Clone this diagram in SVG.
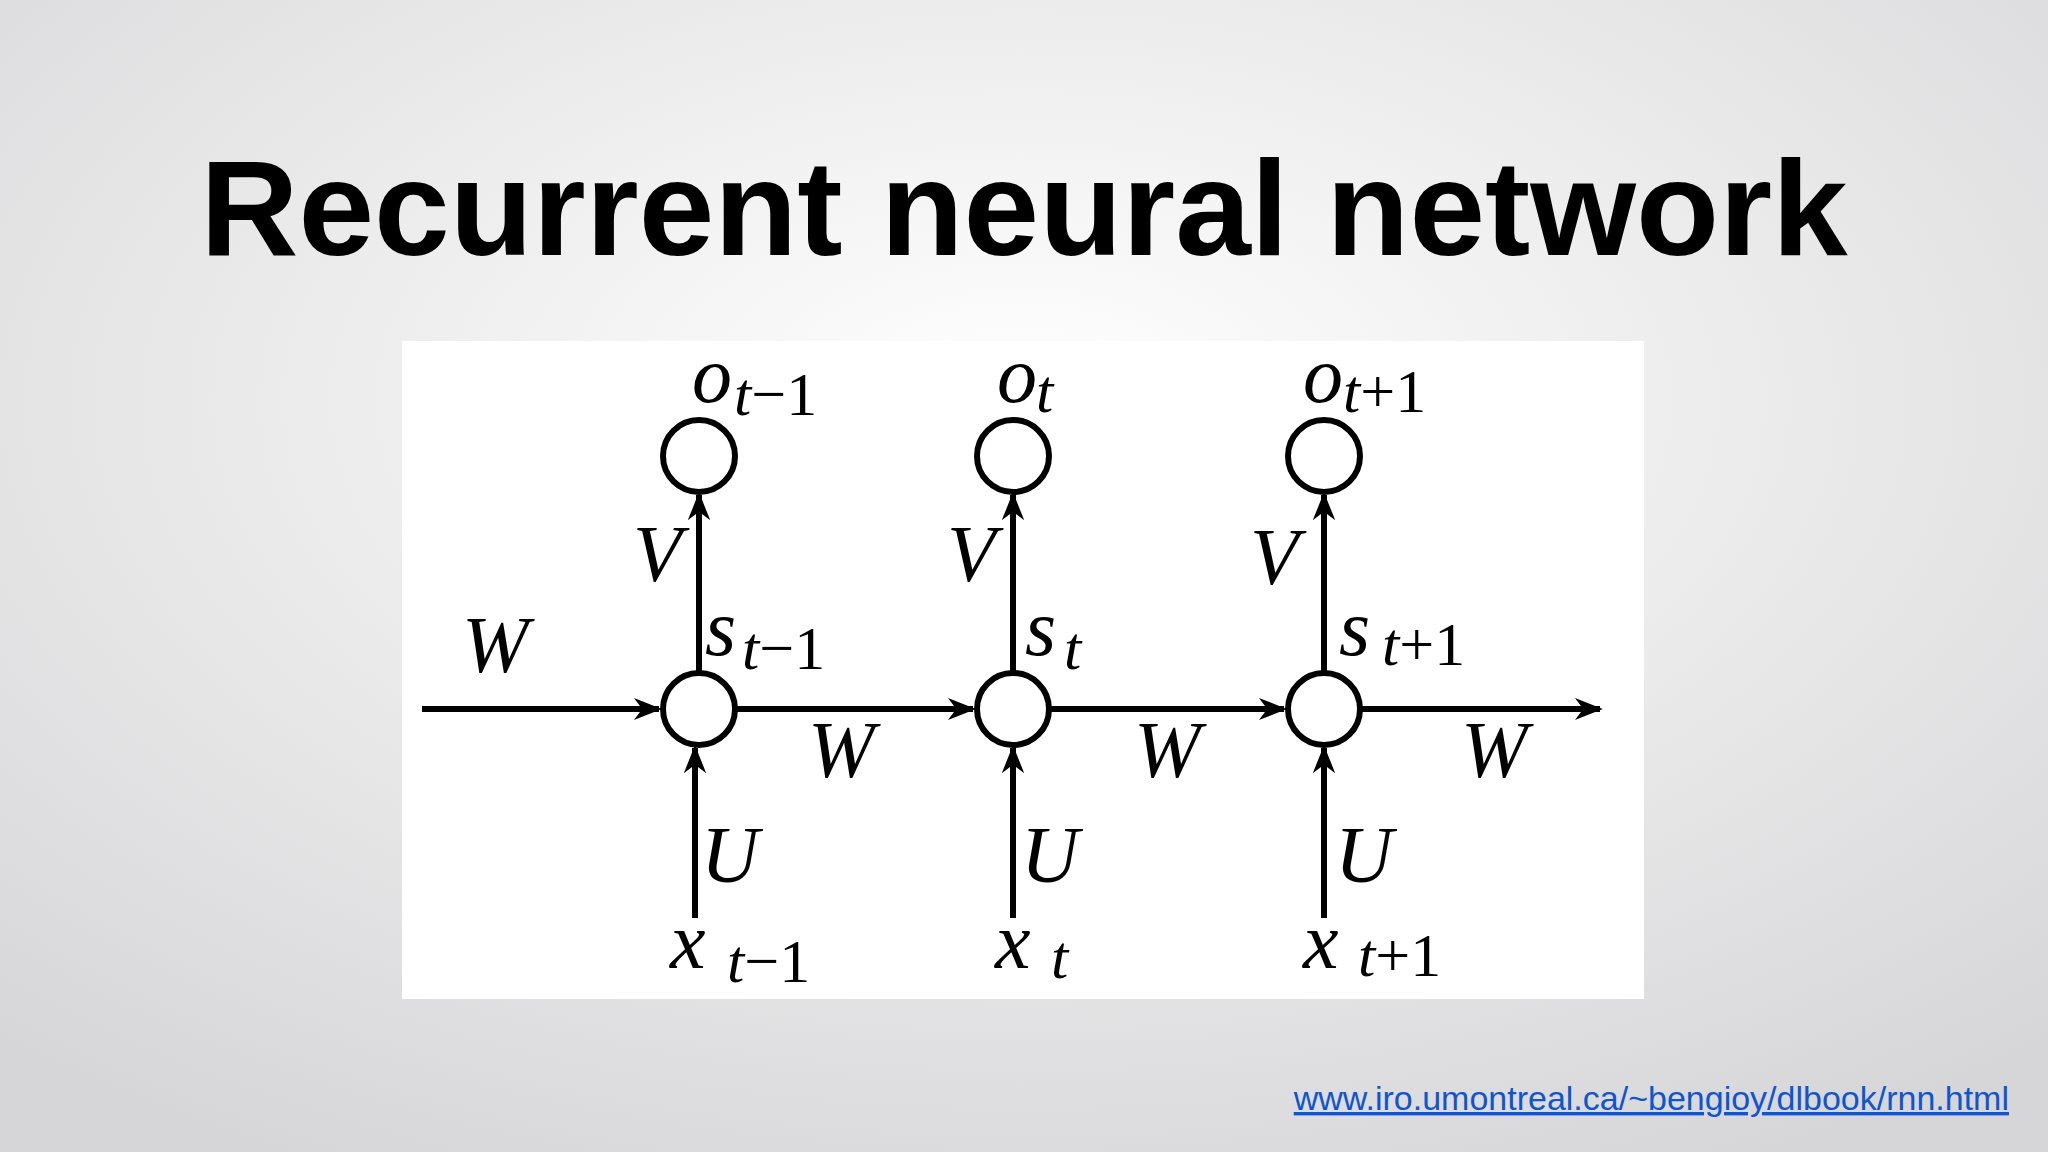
<svg xmlns="http://www.w3.org/2000/svg" width="2048" height="1152" viewBox="0 0 2048 1152">
<defs>
<radialGradient id="bg" cx="50%" cy="35%" r="75%">
<stop offset="0" stop-color="#ffffff"/><stop offset="1" stop-color="#d6d6d8"/>
</radialGradient>
<marker id="ah" viewBox="0 0 20 20" refX="18" refY="10" markerWidth="28" markerHeight="28" markerUnits="userSpaceOnUse" orient="auto">
<path d="M0,2 L20,10 L0,18 L6,10 Z" fill="#000"/>
</marker>
<style>
.ln{stroke:#000;stroke-width:6;fill:none}
.nd{stroke:#000;stroke-width:6;fill:#fff}
.m{font-family:"Liberation Serif",serif;font-style:italic;font-size:80px;fill:#000}
.s{font-family:"Liberation Serif",serif;font-size:62px;fill:#000}
.si{font-style:italic}
</style>
</defs>
<rect width="2048" height="1152" fill="url(#bg)"/>
<text x="1024" y="255" text-anchor="middle" font-family="Liberation Sans,Arial,sans-serif" font-weight="bold" font-size="136" fill="#000">Recurrent neural network</text>
<rect x="402" y="341" width="1242" height="658" fill="#fff"/>
<g id="connectors">
<line class="ln" x1="422" y1="709" x2="659" y2="709" marker-end="url(#ah)"/>
<line class="ln" x1="736" y1="709" x2="973" y2="709" marker-end="url(#ah)"/>
<line class="ln" x1="1050" y1="709" x2="1284" y2="709" marker-end="url(#ah)"/>
<line class="ln" x1="1361" y1="709" x2="1600" y2="709" marker-end="url(#ah)"/>
<line class="ln" x1="695" y1="918" x2="695" y2="748" marker-end="url(#ah)"/>
<line class="ln" x1="1013" y1="918" x2="1013" y2="748" marker-end="url(#ah)"/>
<line class="ln" x1="1324" y1="918" x2="1324" y2="748" marker-end="url(#ah)"/>
<line class="ln" x1="699" y1="672" x2="699" y2="495" marker-end="url(#ah)"/>
<line class="ln" x1="1013" y1="672" x2="1013" y2="495" marker-end="url(#ah)"/>
<line class="ln" x1="1324" y1="672" x2="1324" y2="495" marker-end="url(#ah)"/>
</g>
<g id="s1"><circle class="nd" cx="699" cy="709" r="36"/></g>
<g id="s2"><circle class="nd" cx="1013" cy="709" r="36"/></g>
<g id="s3"><circle class="nd" cx="1324" cy="709" r="36"/></g>
<g id="o1"><circle class="nd" cx="699" cy="456" r="36"/></g>
<g id="o2"><circle class="nd" cx="1013" cy="456" r="36"/></g>
<g id="o3"><circle class="nd" cx="1324" cy="456" r="36"/></g>
<g id="labels">
<text class="m" x="692" y="402">o</text><text class="s" x="734" y="415"><tspan class="si">t</tspan>−1</text>
<text class="m" x="997" y="402">o</text><text class="s si" x="1036" y="412">t</text>
<text class="m" x="1303" y="402">o</text><text class="s" x="1343" y="412"><tspan class="si">t</tspan>+1</text>
<text class="m" x="633" y="581">V</text><text class="m" x="947" y="581">V</text><text class="m" x="1250" y="584">V</text>
<text class="m" x="705" y="655">s</text><text class="s" x="742" y="669"><tspan class="si">t</tspan>−1</text>
<text class="m" x="1025" y="655">s</text><text class="s si" x="1064" y="669">t</text>
<text class="m" x="1339" y="655">s</text><text class="s" x="1382" y="665"><tspan class="si">t</tspan>+1</text>
<text class="m" x="462" y="672">W</text><text class="m" x="808" y="777">W</text><text class="m" x="1134" y="777">W</text><text class="m" x="1461" y="777">W</text>
<text class="m" x="701" y="882">U</text><text class="m" x="1021" y="882">U</text><text class="m" x="1335" y="882">U</text>
<text class="m" x="670" y="968">x</text><text class="s" x="727" y="982"><tspan class="si">t</tspan>−1</text>
<text class="m" x="995" y="968">x</text><text class="s si" x="1051" y="978">t</text>
<text class="m" x="1303" y="968">x</text><text class="s" x="1358" y="976"><tspan class="si">t</tspan>+1</text>
</g>
<text x="2009" y="1110" text-anchor="end" font-family="Liberation Sans,Arial,sans-serif" font-size="34" fill="#1155cc" text-decoration="underline">www.iro.umontreal.ca/~bengioy/dlbook/rnn.html</text>
</svg>
